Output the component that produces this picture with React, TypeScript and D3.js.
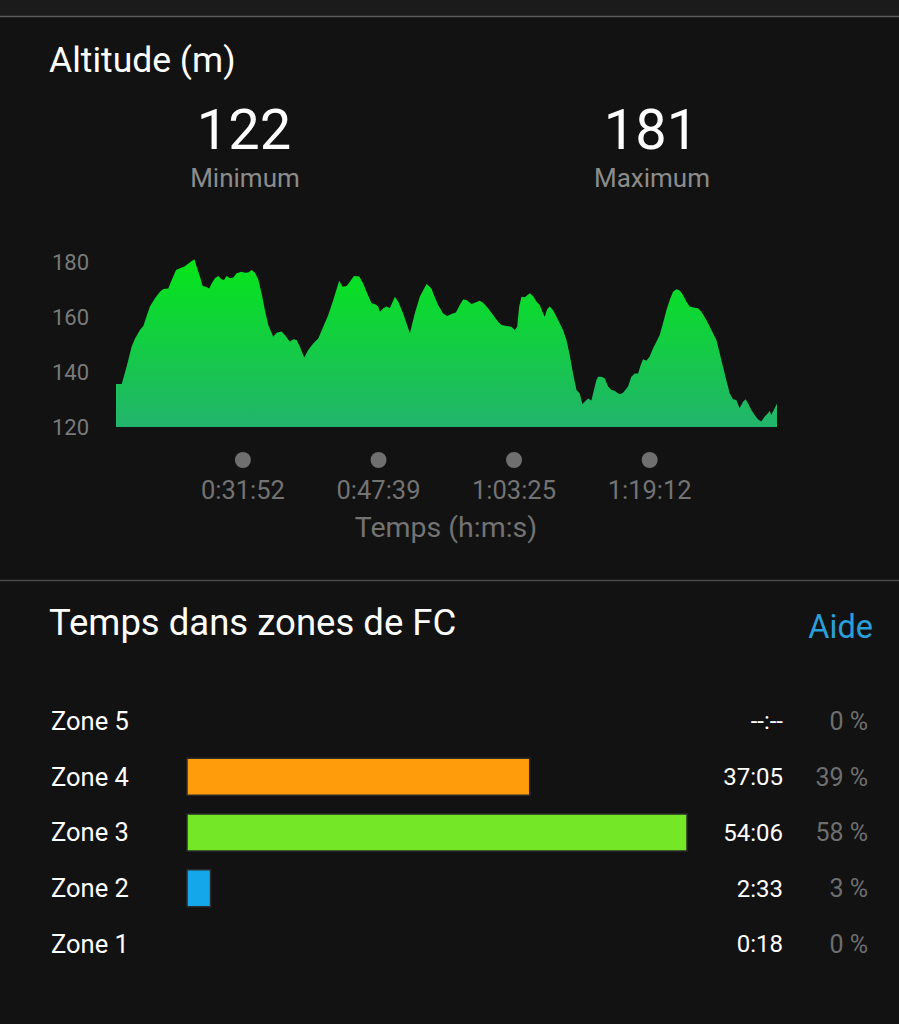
import React from "react";
import * as d3 from "d3";

// Altitude profile: [elapsed time (s), altitude (m)]
const altitudeProfile: [number, number][] = [
  [1026, 135.6], [1066, 135.6], [1100, 141.9], [1135, 149.2], [1159, 152.2], [1193, 155.3],
  [1217, 156.7], [1240, 160.4], [1263, 163.8], [1298, 166.8], [1333, 169.2], [1356, 170.2],
  [1391, 170.4], [1407, 172.5], [1445, 177.1], [1473, 177.7], [1507, 178.5], [1531, 179.5],
  [1573, 181.0], [1589, 178.3], [1612, 174.7], [1631, 171.3], [1654, 171.0], [1677, 170.4],
  [1694, 172.2], [1717, 174.1], [1740, 174.9], [1763, 173.7], [1780, 173.5], [1798, 174.9],
  [1822, 174.1], [1845, 174.4], [1868, 175.9], [1903, 176.5], [1926, 176.1], [1949, 176.2],
  [1973, 177.1], [1996, 176.1], [2019, 173.7], [2042, 168.6], [2066, 162.5], [2089, 157.1],
  [2124, 152.8], [2147, 154.3], [2182, 154.7], [2205, 153.5], [2240, 151.0], [2263, 151.9],
  [2287, 151.6], [2310, 149.2], [2340, 145.3], [2368, 148.0], [2403, 150.4], [2438, 152.2],
  [2473, 156.5], [2508, 160.7], [2543, 166.2], [2584, 173.2], [2608, 171.0], [2636, 171.3],
  [2659, 172.8], [2687, 174.9], [2724, 174.7], [2752, 172.2], [2775, 169.2], [2810, 165.0],
  [2833, 164.7], [2857, 163.8], [2868, 161.9], [2892, 163.2], [2915, 163.8], [2938, 163.2],
  [2973, 167.4], [2996, 165.6], [3031, 161.3], [3078, 154.1], [3112, 161.3], [3147, 167.4],
  [3194, 172.0], [3229, 170.4], [3240, 168.6], [3275, 164.4], [3310, 161.3], [3338, 160.4],
  [3368, 161.1], [3399, 161.6], [3426, 164.4], [3450, 166.4], [3473, 166.2], [3508, 164.7],
  [3531, 165.2], [3566, 165.9], [3589, 165.2], [3624, 163.2], [3659, 160.7], [3694, 158.3],
  [3717, 157.1], [3752, 156.7], [3787, 156.5], [3810, 155.3], [3827, 156.5], [3841, 163.8],
  [3857, 167.4], [3880, 167.2], [3915, 168.6], [3938, 167.6], [3961, 165.6], [3985, 164.4],
  [4008, 161.3], [4020, 160.1], [4036, 162.8], [4054, 163.8], [4078, 162.5], [4113, 158.9],
  [4147, 155.3], [4171, 151.6], [4194, 146.2], [4217, 139.5], [4241, 133.5], [4264, 132.2],
  [4282, 128.4], [4299, 129.2], [4322, 130.4], [4345, 129.6], [4357, 132.2], [4380, 137.1],
  [4392, 138.3], [4415, 138.3], [4438, 137.7], [4462, 134.7], [4485, 133.5], [4508, 133.2],
  [4531, 132.2], [4548, 132.0], [4566, 132.5], [4601, 134.7], [4624, 138.3], [4648, 139.5],
  [4671, 139.5], [4689, 142.5], [4706, 144.6], [4729, 144.1], [4752, 145.6], [4776, 148.6],
  [4799, 151.0], [4822, 153.5], [4845, 157.7], [4869, 162.5], [4892, 166.2], [4915, 169.2],
  [4938, 170.1], [4962, 169.6], [4985, 168.0], [5008, 165.6], [5031, 163.8], [5066, 163.4],
  [5090, 163.2], [5113, 161.9], [5148, 158.9], [5183, 155.3], [5218, 151.6], [5241, 146.8],
  [5264, 141.9], [5287, 137.1], [5311, 132.2], [5334, 130.1], [5357, 129.8], [5380, 126.8],
  [5404, 129.2], [5422, 130.1], [5438, 128.6], [5462, 126.2], [5485, 124.4], [5508, 122.8],
  [5531, 122.0], [5555, 123.8], [5578, 125.0], [5590, 125.9], [5601, 124.4], [5613, 125.6],
  [5625, 126.8], [5636, 128.0], [5641, 128.6],
];

const altitudeTicks = [120, 140, 160, 180];
const timeTickLabels = ["0:31:52", "0:47:39", "1:03:25", "1:19:12"];
const minAltitude = "122";
const maxAltitude = "181";

const zoneNames = ["Zone 5", "Zone 4", "Zone 3", "Zone 2", "Zone 1"];
const zoneTimes = ["--:--", "37:05", "54:06", "2:33", "0:18"];
const zonePercents = [0, 39, 58, 3, 0];
const zoneColors = ["#e8352a", "#ff9c0c", "#74e826", "#14a8ea", "#9a9a9a"];

const FONT = "Roboto, 'Noto Sans', sans-serif";

function parseClock(s: string): number {
  if (s.includes("-")) return 0;
  return s.split(":").map(Number).reduce((acc, v) => acc * 60 + v, 0);
}

export default function App() {
  const W = 899;
  const H = 1024;

  const t0 = altitudeProfile[0][0];
  const t1 = altitudeProfile[altitudeProfile.length - 1][0];
  const x = d3.scaleLinear().domain([t0, t1]).range([116, 777]);
  const y = d3.scaleLinear().domain([120, 180]).range([427, 262]);

  const area = d3
    .area<[number, number]>()
    .x((d) => x(d[0]))
    .y0(y(120))
    .y1((d) => y(d[1]))
    .curve(d3.curveLinear);

  const zoneSecs = zoneTimes.map(parseClock);
  const barX = d3.scaleLinear().domain([0, d3.max(zoneSecs) as number]).range([187, 687]);
  const rowY = d3.scalePoint<string>().domain(zoneNames).range([721, 944]);
  const barH = 37;

  return (
    <svg
      width={W}
      height={H}
      style={{ position: "absolute", left: 0, top: 0, display: "block" }}
      fontFamily={FONT}
    >
      <defs>
        <linearGradient id="altGrad" gradientUnits="userSpaceOnUse" x1="0" y1={y(180)} x2="0" y2={y(120)}>
          <stop offset="0" stopColor="#05e51a" />
          <stop offset="1" stopColor="#22b46d" />
        </linearGradient>
      </defs>
      <rect x={0} y={0} width={W} height={H} fill="#121212" />
      <rect x={0} y={0} width={W} height={16} fill="#1b1b1b" />
      <line x1={0} x2={W} y1={16.5} y2={16.5} stroke="#5a5a5a" strokeWidth={1.5} />

      <text x={49} y={72} fill="#ffffff" fontSize={35.5}>Altitude (m)</text>

      <text x={244} y={149} fill="#ffffff" fontSize={56} textAnchor="middle">{minAltitude}</text>
      <text x={245} y={187} fill="#8c8c8c" fontSize={26} textAnchor="middle">Minimum</text>
      <text x={651} y={149} fill="#ffffff" fontSize={56} textAnchor="middle">{maxAltitude}</text>
      <text x={652} y={187} fill="#8c8c8c" fontSize={26} textAnchor="middle">Maximum</text>

      {altitudeTicks.map((v) => (
        <text key={v} x={52} y={y(v)} dy="0.35em" fill="#7a7a7a" fontSize={22}>
          {v}
        </text>
      ))}

      <path d={area(altitudeProfile) as string} fill="url(#altGrad)" />

      {timeTickLabels.map((lab) => {
        const px = x(parseClock(lab));
        return (
          <g key={lab}>
            <circle cx={px} cy={460} r={8} fill="#6f6f6f" />
            <text x={px} y={499} fill="#737373" fontSize={25.5} textAnchor="middle">
              {lab}
            </text>
          </g>
        );
      })}
      <text x={446} y={537} fill="#737373" fontSize={28.5} textAnchor="middle">Temps (h:m:s)</text>

      <line x1={0} x2={W} y1={580.5} y2={580.5} stroke="#4a4a4a" strokeWidth={1.5} />

      <text x={49} y={635} fill="#ffffff" fontSize={36.5}>Temps dans zones de FC</text>
      <text x={873} y={638} fill="#2a9fd8" fontSize={32.5} textAnchor="end">Aide</text>

      {zoneNames.map((name, i) => {
        const cy = rowY(name) as number;
        const w = barX(zoneSecs[i]) - barX(0);
        return (
          <g key={name}>
            <text x={51} y={cy} dy="0.35em" fill="#ffffff" fontSize={25.5}>{name}</text>
            {zonePercents[i] > 0 && (
              <rect
                x={barX(0)}
                y={cy - barH / 2}
                width={w}
                height={barH}
                fill={zoneColors[i]}
                stroke="#2a2a2a"
                strokeWidth={1.5}
              />
            )}
            <text x={783} y={cy} dy="0.35em" fill="#ffffff" fontSize={24} textAnchor="end">
              {zoneTimes[i]}
            </text>
            <text x={868} y={cy} dy="0.35em" fill="#6e6e6e" fontSize={25} textAnchor="end">
              {zonePercents[i]} %
            </text>
          </g>
        );
      })}
    </svg>
  );
}
